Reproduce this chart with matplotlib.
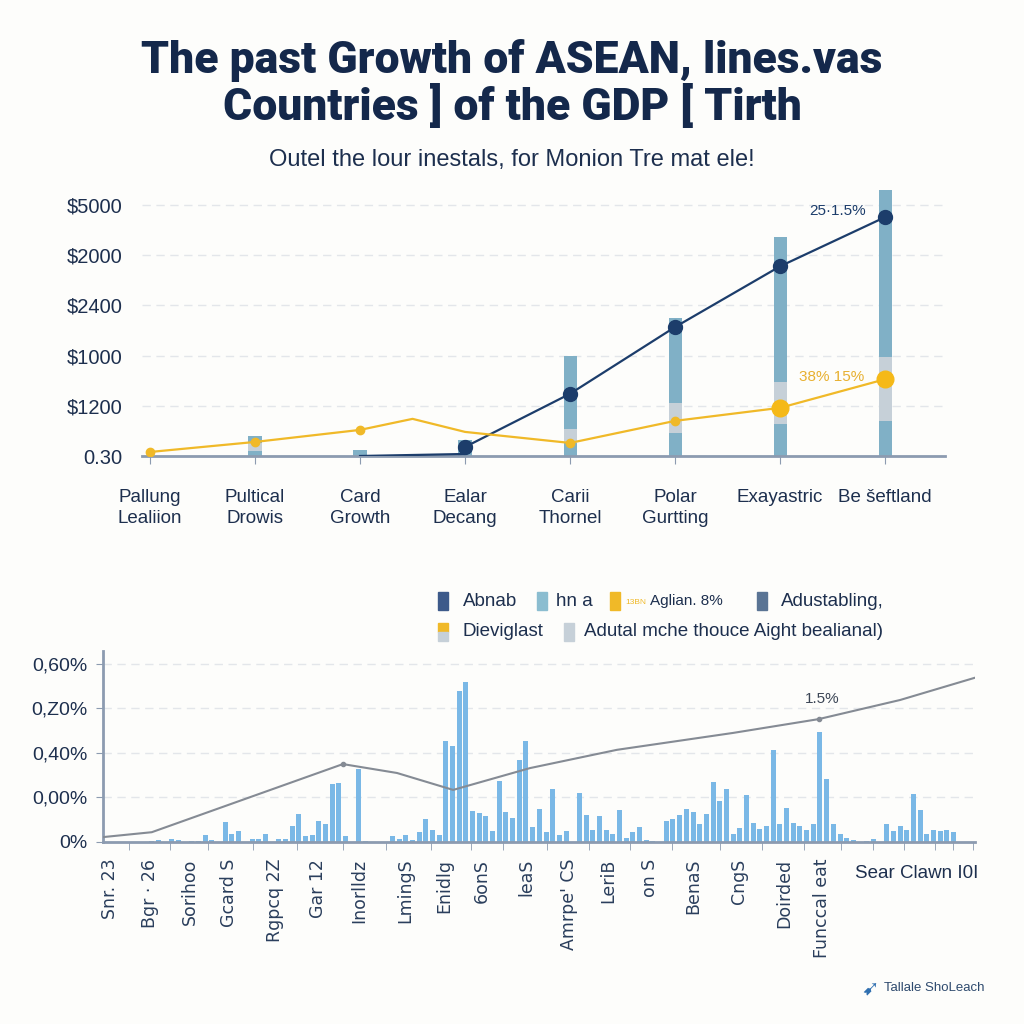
import numpy as np
import matplotlib
matplotlib.use("Agg")
import matplotlib.pyplot as plt
from matplotlib.patches import Rectangle

plt.rcParams["font.family"] = ["Liberation Sans", "DejaVu Sans"]

# ---- top chart data (units = gridline steps) ----
cats = ["Pallung\nLealiion", "Pultical\nDrowis", "Card\nGrowth", "Ealar\nDecang",
        "Carii\nThornel", "Polar\nGurtting", "Exayastric", "Be šeftland"]
ytick_lbl = ["0.30", "$1200", "$1000", "$2400", "$2000", "$5000"]
bar_total = [0.0, 0.40, 0.12, 0.32, 2.00, 2.75, 4.36, 5.30]
grey_lo = [0.0, 0.10, 0.0, 0.0, 0.26, 0.46, 0.64, 0.70]
grey_hi = [0.0, 0.25, 0.0, 0.0, 0.54, 1.06, 1.47, 1.97]
navy_x = [2, 3, 3, 4, 5, 6, 7]
navy_y = [0.0, 0.04, 0.18, 1.24, 2.57, 3.78, 4.76]
gold_x = [0, 1, 2, 2.5, 3, 4, 5, 6, 7]
gold_y = [0.08, 0.28, 0.52, 0.74, 0.48, 0.26, 0.70, 0.96, 1.53]
gold_small = [0, 1, 2, 4, 5]
gold_big = [6, 7]

# ---- bottom chart data ----
bars2 = [0.03, 0.04, 0, 0.06, 0.04, 0, 0.02, 0.02, 0.16, 0.05,
         0, 0.46, 0.18, 0.24, 0, 0.07, 0.07, 0.19, 0, 0.06,
         0.06, 0.36, 0.63, 0.13, 0.16, 0.47, 0.41, 1.31, 1.33, 0.14,
         0, 1.64, 0.03, 0, 0, 0, 0.14, 0.07, 0.16, 0.04,
         0.22, 0.52, 0.28, 0.15, 2.26, 2.15, 3.39, 3.60, 0.70, 0.65,
         0.59, 0.25, 1.37, 0.67, 0.55, 1.84, 2.27, 0.34, 0.73, 0.23,
         1.20, 0.15, 0.25, 0, 1.09, 0.61, 0.28, 0.58, 0.28, 0.17,
         0.71, 0.10, 0.23, 0.34, 0.05, 0.02, 0, 0.47, 0.52, 0.61,
         0.75, 0.67, 0.40, 0.62, 1.34, 0.92, 1.18, 0.17, 0.31, 1.06,
         0.43, 0.30, 0.36, 2.07, 0.40, 0.76, 0.43, 0.37, 0.28, 0.40,
         2.48, 1.42, 0.40, 0.17, 0.08, 0.04, 0.01, 0.03, 0.06, 0,
         0.40, 0.25, 0.37, 0.28, 1.07, 0.72, 0.17, 0.28, 0.24, 0.28,
         0.23]
line2_x = [-7.3, 0, 28.6, 36.7, 45.1, 56.6, 69.6, 87.0, 99.8, 112, 123.2]
line2_y = [0.11, 0.22, 1.75, 1.55, 1.17, 1.66, 2.07, 2.45, 2.76, 3.19, 3.69]
ytick2_lbl = ["0%", "0,00%", "0,40%", "0,Z0%", "0,60%"]
xlbl2 = ["Snr. 23", "Bgr · 26", "Sorihoo", "Gcard S", "Rgpcq 2Z", "Gar 12", "Inorlldz",
         "LmingS", "Enidlg", "6onS", "leaS", "Amrpe' CS", "LeriB", "on S", "BenaS",
         "CngS", "Doirded", "Funccal eat"]
xlbl2_pos = [-6.3, -0.3, 5.7, 11.5, 18.4, 24.9, 31.0, 37.9, 43.7, 49.4, 56.0, 62.4,
             68.3, 74.6, 81.1, 87.9, 94.6, 100.3]
xtick2_pos = [-3.4, 2.8, 8.4, 15.1, 21.7, 28.6, 35.0, 41.8, 47.8, 52.5, 59.1, 65.4,
              71.6, 77.8, 85.0, 91.3, 97.6, 103.1, 107.9, 112.6, 117.2, 119.9, 122.9]

NAVY = "#1c3d6b"; GOLD = "#f0b928"; BLUE = "#80b0c6"; GREY = "#c6d0d8"
TXT = "#1d2f4e"; AX = "#8c9bb0"

fig = plt.figure(figsize=(10.24, 10.24), dpi=100, facecolor="#fdfdfb")

fig.text(0.5, 1 - 60/1024, "The past Growth of ASEAN, lines.vas", ha="center", va="center",
         fontsize=32, fontweight="black", color="#14284b", family=["Roboto", "DejaVu Sans"])
fig.text(0.5, 1 - 107/1024, "Countries ] of the GDP [ Tirth", ha="center", va="center",
         fontsize=32, fontweight="black", color="#14284b", family=["Roboto", "DejaVu Sans"])
fig.text(0.5, 1 - 160/1024, "Outel the lour inestals, for Monion Tre mat ele!", ha="center",
         va="center", fontsize=17, color=TXT)

# ---------------- top chart ----------------
ax1 = fig.add_axes([142/1024, 1 - 456/1024, 803/1024, 268/1024])
ax1.set_facecolor("none")
idx = np.arange(len(cats))
ax1.bar(idx, bar_total, width=0.125, color=BLUE, zorder=2)
ax1.bar(idx, np.array(grey_hi) - np.array(grey_lo), bottom=grey_lo, width=0.125, color=GREY, zorder=2)
ax1.plot(navy_x, navy_y, color=NAVY, lw=1.6, zorder=3)
ax1.plot(navy_x[2:], navy_y[2:], "o", color=NAVY, ms=10, zorder=4)
ax1.plot(gold_x, gold_y, color=GOLD, lw=1.6, zorder=3)
gx = np.array(gold_x); gy = np.array(gold_y)
sm = [gold_x.index(v) for v in gold_small]; bg = [gold_x.index(v) for v in gold_big]
ax1.plot(gx[sm], gy[sm], "o", color=GOLD, ms=6, zorder=4)
ax1.plot(gx[bg], gy[bg], "o", color="#f5b918", ms=12, zorder=4)
ax1.text(6.82, 4.88, "25·1.5%", ha="right", va="center", fontsize=11, color=NAVY)
ax1.text(6.8, 1.57, "38% 15%", ha="right", va="center", fontsize=11, color="#e8b030")

ax1.set_xlim(-0.076, 7.57)
ax1.set_ylim(0, 5.34)
ax1.set_yticks(range(6), ytick_lbl, fontsize=14.5, color=TXT)
ax1.set_xticks(idx, cats, fontsize=13.5, color=TXT, linespacing=1.3)
ax1.tick_params(axis="y", length=0, pad=14)
ax1.tick_params(axis="x", length=6, color=AX, pad=18)
for s in ["top", "right", "left"]:
    ax1.spines[s].set_visible(False)
ax1.spines["bottom"].set_color(AX); ax1.spines["bottom"].set_linewidth(2)
ax1.grid(axis="y", ls=(0, (6, 4)), color="#e3e6ea", lw=1)
ax1.set_axisbelow(True)

# ---------------- legend (manual) ----------------
leg = [(438, 601, ["#3d5a8a"], "Abnab", 463),
       (537, 601, ["#8bbdd0"], "hn a", 556),
       (610, 601, [GOLD], "Aglian. 8%", 650),
       (757, 601, ["#5a7494"], "Adustabling,", 781),
       (438, 632, [GOLD, GREY], "Dieviglast", 463),
       (564, 632, [GREY], "Adutal mche thouce Aight bealianal)", 584)]
for px, py, cols, lab, tx in leg:
    h = 18 / len(cols)
    for k, c in enumerate(cols):
        fig.patches.append(Rectangle((px/1024, 1 - (py - 9 + h*(k+1))/1024), 10/1024, h/1024,
                                     transform=fig.transFigure, color=c))
    fs = 11 if lab.startswith("Aglian") else 13.5
    fig.text(tx/1024, 1 - py/1024, lab, ha="left", va="center", fontsize=fs, color=TXT)
fig.text(625/1024, 1 - 603/1024, "13BN", ha="left", va="center", fontsize=6, color=GOLD)

# ---------------- bottom chart ----------------
ax2 = fig.add_axes([103/1024, 1 - 842/1024, 872/1024, 191/1024])
ax2.set_facecolor("none")
ax2.bar(np.arange(len(bars2)), bars2, width=0.75, color="#7ab8e6", zorder=2)
ax2.plot(line2_x, line2_y, color="#858b94", lw=1.5, zorder=3)
ax2.plot([line2_x[2], line2_x[8]], [line2_y[2], line2_y[8]], "o", color="#858b94", ms=3, zorder=4)
ax2.text(line2_x[8] + 0.5, line2_y[8] + 0.3, "1.5%", ha="center", va="bottom", fontsize=11, color="#3c4656")
ax2.set_xlim(-7.3, 123.2)
ax2.set_ylim(0, 4.29)
ax2.set_yticks(range(5), ytick2_lbl, fontsize=14, color=TXT)
ax2.tick_params(axis="y", length=5, color=AX, pad=6)
ax2.set_xticks(xlbl2_pos, xlbl2, rotation=90, fontsize=12.5, color="#2a3e5c",
               family=["DejaVu Sans"])
ax2.set_xticks(xtick2_pos, minor=True)
ax2.tick_params(axis="x", which="major", length=0, pad=12)
ax2.tick_params(axis="x", which="minor", length=6, color=AX)
for s in ["top", "right"]:
    ax2.spines[s].set_visible(False)
for s in ["left", "bottom"]:
    ax2.spines[s].set_color(AX); ax2.spines[s].set_linewidth(2)
ax2.grid(axis="y", ls=(0, (6, 4)), color="#e3e6ea", lw=1)
ax2.set_axisbelow(True)

fig.text(855/1024, 1 - 873/1024, "Sear Clawn I0I", ha="left", va="center", fontsize=13.5,
         color=TXT)
fig.text(870/1024, 1 - 988/1024, "➹", ha="center", va="center", fontsize=15, color="#2f6fb0",
         family=["DejaVu Sans"])
fig.text(884/1024, 1 - 988/1024, "Tallale ShoLeach", ha="left", va="center", fontsize=9.5,
         color="#2e4a6e")

fig.savefig("out.png", dpi=100, facecolor=fig.get_facecolor())
